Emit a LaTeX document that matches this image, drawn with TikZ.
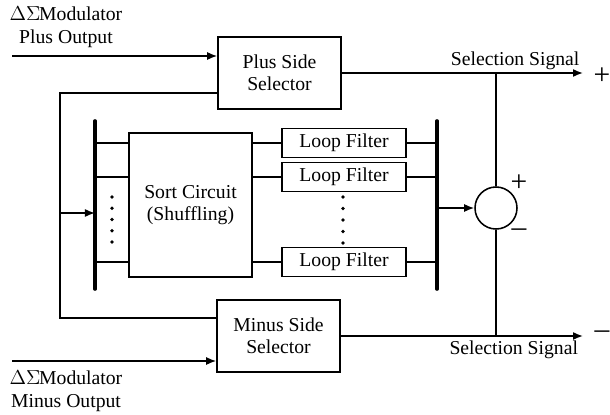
\documentclass[tikz,border=0pt]{standalone}
\usepackage{fontspec}
\setmainfont{Liberation Serif}
\usetikzlibrary{arrows.meta,calc}

\tikzset{
  blk/.style={draw,line width=1.1pt,minimum width=3.075cm,inner sep=0pt,align=center},
  lfbox/.style={draw,line width=1.1pt,minimum width=3.1cm,minimum height=0.72cm,inner sep=0pt},
  wire/.style={line width=1.1pt},
  sig/.style={wire,-{Latex[length=0.25cm,width=0.2cm]}},
  bus/.style={line width=2.6pt,line cap=round},
  lbl/.style={font=\fontsize{14}{16}\selectfont,inner sep=1pt},
  sgn/.style={font=\fontsize{21}{21}\selectfont,inner sep=0pt},
  dot/.style={circle,fill,inner sep=0pt,minimum size=2.6pt}
}

\begin{document}
\begin{tikzpicture}[x=0.025cm,y=-0.025cm,font=\fontsize{14}{16}\selectfont]
        \useasboundingbox (0,0) rectangle (610,414);
        % selectors and sort block
        \node[blk,minimum height=1.8cm] (plus) at (279.5,73) {Plus Side\\Selector};
        \node[blk,minimum height=1.8cm] (minus) at (278.5,336) {Minus Side\\Selector};
        \node[blk,minimum height=3.6cm] (sort) at (190.5,205) {Sort Circuit\\(Shuffling)};
        \node[lfbox] (lf1) at (344,143) {Loop Filter};
        \node[lfbox] (lf2) at (344,177) {Loop Filter};
        \node[lfbox] (lf3) at (344,262) {Loop Filter};
        \node[draw,circle,line width=1.1pt,minimum size=1.05cm,inner sep=0pt] (sum) at (496,208) {};
        % fixed points
        \coordinate (inP) at (12,56);
        \coordinate (inM) at (12,361);
        \coordinate (outP) at (583,73);
        \coordinate (outM) at (583,336);
        \coordinate (fbTop) at (60,93);
        \coordinate (fbBot) at (60,318);
        \coordinate (fbMid) at (60,213);
        \coordinate (lbusT) at (95,121);
        \coordinate (lbusB) at (95,289);
        \coordinate (rbusT) at (437,121);
        \coordinate (rbusB) at (437,289);
        % inputs and outputs
        \draw[sig] (inP) -- (inP -| plus.west);
        \draw[sig] (inM) -- (inM -| minus.west);
        \draw[sig] (plus.east) -- (outP) node[lbl,above left,inner sep=2pt] {Selection Signal};
        \draw[sig] (minus.east) -- (outM) node[lbl,below left,inner sep=3pt] {Selection Signal};
        \node[lbl] (inPtxt) at (66,27) [align=center] {$\Delta\Sigma$\kern-1ptModulator\\Plus Output};
        \node[lbl] (inMtxt) at (66,391) [align=center] {$\Delta\Sigma$\kern-1ptModulator\\Minus Output};
        \node[sgn] (pP) at (602,76) {+};
        \node[sgn] (pM) at (602,335) {\textendash};
        % feedback path
        \draw[wire] (fbTop -| plus.west) -- (fbTop) -- (fbBot) -- (fbBot -| minus.west);
        \draw[sig] (fbMid) -- (fbMid -| lbusT);
        % buses
        \draw[bus] (lbusT) -- (lbusB);
        \draw[bus] (rbusT) -- (rbusB);
        \foreach \i in {1,2,3} {
          \draw[wire] (lbusT |- lf\i) -- (sort.west |- lf\i);
          \draw[wire] (sort.east |- lf\i) -- (lf\i.west);
          \draw[wire] (lf\i.east) -- (rbusT |- lf\i);
        }
        \foreach \k in {0,...,4} {
          \node[dot] at (112,197+11.25*\k) {};
          \node[dot] at (343,197+11.5*\k) {};
        }
        % subtractor
        \draw[sig] (rbusT |- sum.west) -- (sum.west);
        \draw[wire] (sum.north) -- (sum.north |- outP);
        \draw[wire] (sum.south) -- (sum.south |- outM);
        \node[sgn] (sP) at (519,183) {+};
        \node[sgn] (sM) at (519,233) {\textendash};
      \end{tikzpicture}
\end{document}
